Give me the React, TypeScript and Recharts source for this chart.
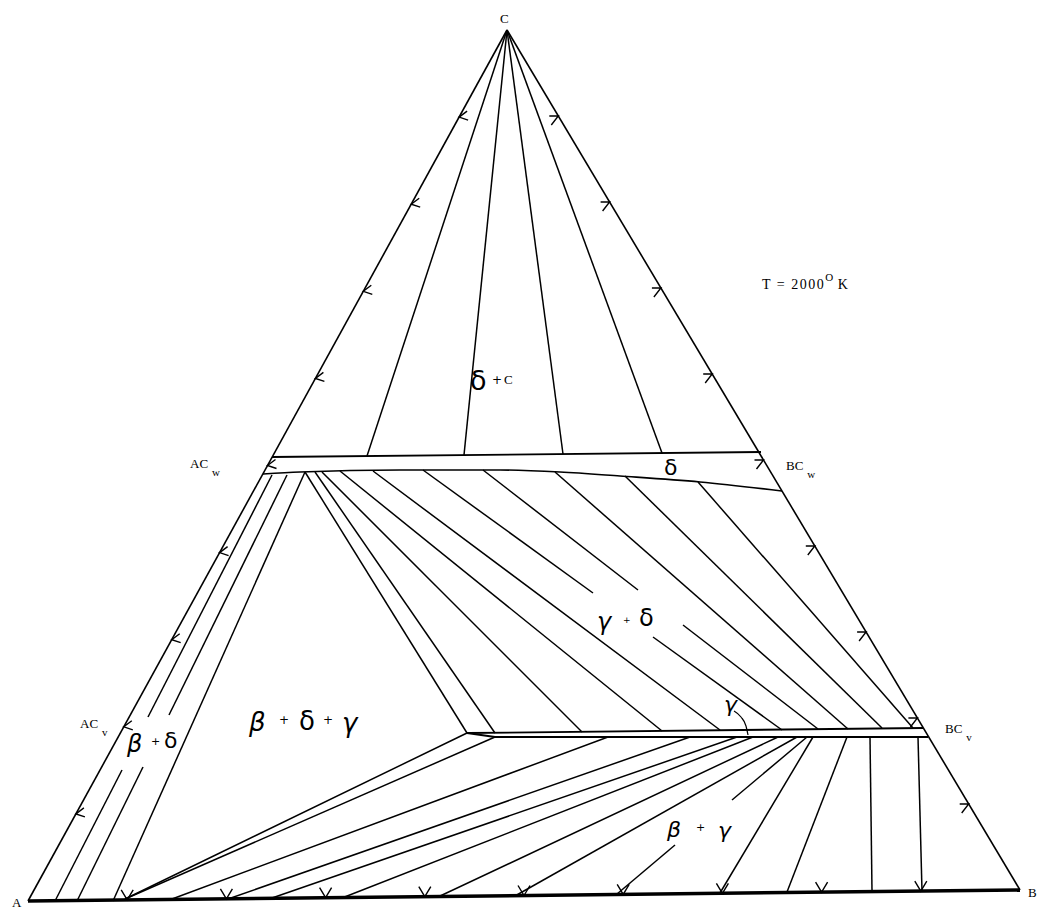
import React from 'react';
import { ComposedChart, Line, Scatter, XAxis, YAxis } from 'recharts';

type Pt = { x: number; y: number };

// ---- triangle vertices (chart coordinates, y grows downward) ----
const vertexA: Pt = { x: 28, y: 901 };
const vertexB: Pt = { x: 1020, y: 890 };
const vertexC: Pt = { x: 507, y: 30 };

// composition grid marks along each side (tenths)
const gridFractions = [0.1, 0.2, 0.3, 0.4, 0.5, 0.6, 0.7, 0.8, 0.9];

// ---- delta phase band ----
const deltaUpperBoundary: Pt[] = [
  { x: 272, y: 457 },
  { x: 761, y: 452 },
];
const deltaLowerBoundary: Pt[] = [
  { x: 263, y: 474 },
  { x: 300, y: 472 },
  { x: 400, y: 470 },
  { x: 500, y: 470 },
  { x: 560, y: 472 },
  { x: 620, y: 476 },
  { x: 700, y: 482 },
  { x: 782, y: 491 },
];

// delta + C tie lines: from C to the delta upper boundary
const deltaCarbonTieEnds: Pt[] = [
  { x: 367, y: 456 },
  { x: 464, y: 455 },
  { x: 563, y: 454 },
  { x: 662, y: 453 },
];

// beta + delta tie lines (left band), broken around the label
const betaDeltaTies: Pt[][] = [
  [{ x: 55, y: 901 }, { x: 122, y: 770 }],
  [{ x: 148, y: 717 }, { x: 272, y: 475 }],
  [{ x: 77, y: 901 }, { x: 143, y: 767 }],
  [{ x: 169, y: 715 }, { x: 287, y: 475 }],
  [{ x: 113, y: 901 }, { x: 305, y: 472 }],
];

// gamma + delta tie lines
const gammaDeltaTies: Pt[][] = [
  [{ x: 305, y: 472 }, { x: 467, y: 733 }],
  [{ x: 315, y: 472 }, { x: 495, y: 733 }],
  [{ x: 322, y: 472 }, { x: 582, y: 732 }],
  [{ x: 340, y: 471 }, { x: 662, y: 731 }],
  [{ x: 373, y: 471 }, { x: 720, y: 730 }],
  [{ x: 423, y: 470 }, { x: 593, y: 593 }],
  [{ x: 653, y: 637 }, { x: 782, y: 730 }],
  [{ x: 483, y: 470 }, { x: 638, y: 590 }],
  [{ x: 683, y: 625 }, { x: 818, y: 729 }],
  [{ x: 555, y: 472 }, { x: 848, y: 729 }],
  [{ x: 625, y: 476 }, { x: 882, y: 728 }],
  [{ x: 698, y: 482 }, { x: 913, y: 728 }],
];

// ---- gamma phase band ----
const gammaUpperBoundary: Pt[] = [
  { x: 467, y: 733 },
  { x: 923, y: 728 },
];
const gammaLowerBoundary: Pt[] = [
  { x: 467, y: 733 },
  { x: 495, y: 737 },
  { x: 928, y: 737 },
];

// beta + gamma tie lines
const betaGammaTies: Pt[][] = [
  [{ x: 467, y: 733 }, { x: 125, y: 899 }],
  [{ x: 495, y: 737 }, { x: 125, y: 899 }],
  [{ x: 608, y: 737 }, { x: 172, y: 899 }],
  [{ x: 690, y: 737 }, { x: 228, y: 899 }],
  [{ x: 737, y: 737 }, { x: 272, y: 898 }],
  [{ x: 753, y: 737 }, { x: 342, y: 898 }],
  [{ x: 778, y: 737 }, { x: 438, y: 897 }],
  [{ x: 797, y: 737 }, { x: 515, y: 896 }],
  [{ x: 807, y: 737 }, { x: 732, y: 800 }],
  [{ x: 675, y: 845 }, { x: 617, y: 894 }],
  [{ x: 813, y: 737 }, { x: 720, y: 893 }],
  [{ x: 847, y: 737 }, { x: 787, y: 892 }],
  [{ x: 870, y: 737 }, { x: 872, y: 891 }],
  [{ x: 918, y: 737 }, { x: 922, y: 891 }],
];

// pointer from the gamma label to the gamma band
const gammaPointer: Pt[] = [
  { x: 734, y: 711 },
  { x: 741, y: 717 },
  { x: 746, y: 726 },
  { x: 748, y: 735 },
];

// ---- annotations ----
const phaseGlyphs = [
  { x: 470, y: 390, ch: 'δ', s: 27 },
  { x: 492, y: 384, ch: '+', s: 12 },
  { x: 504, y: 384, ch: 'C', s: 13 },
  { x: 664, y: 475, ch: 'δ', s: 22 },
  { x: 597, y: 630, ch: 'γ', s: 24 },
  { x: 623, y: 623, ch: '+', s: 9 },
  { x: 639, y: 626, ch: 'δ', s: 24 },
  { x: 249, y: 731, ch: 'β', s: 26 },
  { x: 279, y: 724, ch: '+', s: 12 },
  { x: 299, y: 730, ch: 'δ', s: 26 },
  { x: 323, y: 724, ch: '+', s: 12 },
  { x: 342, y: 732, ch: 'γ', s: 26 },
  { x: 127, y: 752, ch: 'β', s: 24 },
  { x: 151, y: 745, ch: '+', s: 11 },
  { x: 164, y: 748, ch: 'δ', s: 22 },
  { x: 667, y: 837, ch: 'β', s: 22 },
  { x: 696, y: 831, ch: '+', s: 11 },
  { x: 718, y: 838, ch: 'γ', s: 22 },
  { x: 724, y: 712, ch: 'γ', s: 22 },
];

const pointLabels = [
  { x: 500, y: 23, main: 'C', sub: '' },
  { x: 12, y: 907, main: 'A', sub: '' },
  { x: 1028, y: 897, main: 'B', sub: '' },
  { x: 190, y: 468, main: 'AC', sub: 'w' },
  { x: 786, y: 470, main: 'BC', sub: 'w' },
  { x: 80, y: 728, main: 'AC', sub: 'v' },
  { x: 945, y: 733, main: 'BC', sub: 'v' },
];

const temperatureLabel = { x: 762, y: 289, pre: 'T = 2000', sup: 'O', post: 'K' };

const lerp = (p: Pt, q: Pt, f: number): Pt => ({ x: p.x + (q.x - p.x) * f, y: p.y + (q.y - p.y) * f });

const leftMarks = gridFractions.map((f) => lerp(vertexC, vertexA, f));
const rightMarks = gridFractions.map((f) => lerp(vertexC, vertexB, f));
const baseMarks = gridFractions.map((f) => lerp(vertexA, vertexB, f));

const serif = '"Liberation Serif", "DejaVu Serif", serif';
const greekFont = '"DejaVu Sans", "Noto Sans", sans-serif';

const LeftMark = (p: any) => (
  <path d={`M${p.cx + 8},${p.cy - 6} L${p.cx},${p.cy} L${p.cx + 9},${p.cy + 3}`} stroke="#000" strokeWidth={1.4} fill="none" />
);
const RightMark = (p: any) => (
  <path d={`M${p.cx - 9},${p.cy} L${p.cx},${p.cy} L${p.cx - 7},${p.cy + 9}`} stroke="#000" strokeWidth={1.4} fill="none" />
);
const BaseMark = (p: any) => (
  <path d={`M${p.cx - 6},${p.cy - 10} L${p.cx},${p.cy} L${p.cx + 6},${p.cy - 10}`} stroke="#000" strokeWidth={1.4} fill="none" />
);

const Glyph = (p: any) => {
  const g = p.payload;
  const latin = g.ch === 'C';
  const italic = g.ch === 'β' || g.ch === 'γ';
  return (
    <text
      x={p.cx}
      y={p.cy}
      fontSize={g.s}
      fontFamily={latin ? serif : greekFont}
      fontStyle={italic ? 'italic' : 'normal'}
      fill="#000"
    >
      {g.ch}
    </text>
  );
};

const PointLabel = (p: any) => {
  const g = p.payload;
  return (
    <text x={p.cx} y={p.cy} fontSize={13} fontFamily={serif} fill="#000">
      {g.main}
      {g.sub ? (
        <tspan dx={4} dy={8} fontSize={11}>
          {g.sub}
        </tspan>
      ) : null}
    </text>
  );
};

const TempLabel = (p: any) => {
  const g = p.payload;
  return (
    <text x={p.cx} y={p.cy} fontSize={14} fontFamily={serif} letterSpacing={1.5} fill="#000">
      {g.pre}
      <tspan dy={-8} fontSize={11}>
        {g.sup}
      </tspan>
      <tspan dy={8} dx={3}>
        {g.post}
      </tspan>
    </text>
  );
};

const seg = (key: string, data: Pt[], width = 1.5, type: any = 'linear') => (
  <Line
    key={key}
    data={data}
    dataKey="y"
    type={type}
    stroke="#000"
    strokeWidth={width}
    dot={false}
    activeDot={false}
    isAnimationActive={false}
    legendType="none"
  />
);

export default function App() {
  return (
    <div style={{ position: 'absolute', left: 0, top: 0, width: 1039, height: 909, background: '#fff' }}>
      <ComposedChart width={1039} height={909} margin={{ top: 0, right: 0, bottom: 0, left: 0 }}>
        <XAxis type="number" dataKey="x" domain={[0, 1039]} hide allowDataOverflow />
        <YAxis type="number" dataKey="y" domain={[0, 909]} reversed hide allowDataOverflow />

        {seg('edgeCA', [vertexC, vertexA], 1.6)}
        {seg('edgeCB', [vertexC, vertexB], 1.6)}
        {seg('edgeAB', [vertexA, vertexB], 3.5)}

        {deltaCarbonTieEnds.map((p, i) => seg(`dc${i}`, [vertexC, p]))}
        {seg('dUp', deltaUpperBoundary, 1.8)}
        {seg('dLow', deltaLowerBoundary, 1.6, 'monotone')}
        {betaDeltaTies.map((s, i) => seg(`bd${i}`, s))}
        {gammaDeltaTies.map((s, i) => seg(`gd${i}`, s))}
        {seg('gUp', gammaUpperBoundary, 1.8)}
        {seg('gLow', gammaLowerBoundary, 1.8)}
        {betaGammaTies.map((s, i) => seg(`bg${i}`, s))}
        {seg('gPtr', gammaPointer, 1.2, 'monotone')}

        <Scatter data={leftMarks} dataKey="y" shape={LeftMark} isAnimationActive={false} legendType="none" />
        <Scatter data={rightMarks} dataKey="y" shape={RightMark} isAnimationActive={false} legendType="none" />
        <Scatter data={baseMarks} dataKey="y" shape={BaseMark} isAnimationActive={false} legendType="none" />
        <Scatter data={phaseGlyphs} dataKey="y" shape={Glyph} isAnimationActive={false} legendType="none" />
        <Scatter data={pointLabels} dataKey="y" shape={PointLabel} isAnimationActive={false} legendType="none" />
        <Scatter data={[temperatureLabel]} dataKey="y" shape={TempLabel} isAnimationActive={false} legendType="none" />
      </ComposedChart>
    </div>
  );
}
